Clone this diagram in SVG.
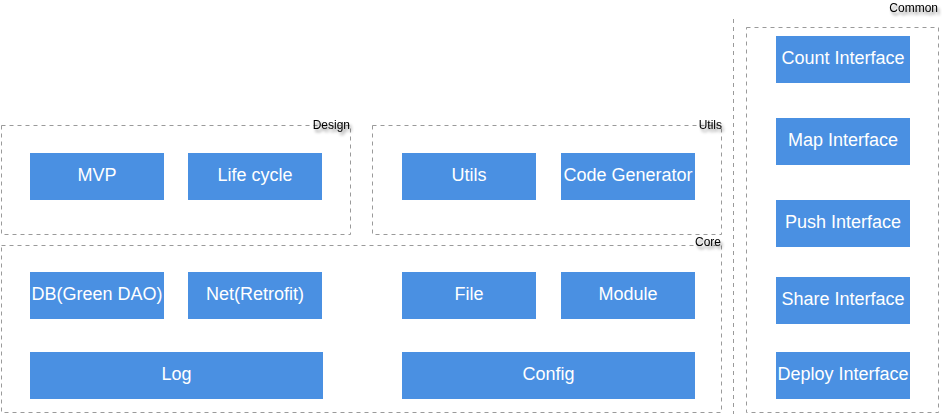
<svg xmlns="http://www.w3.org/2000/svg" width="948" height="414" viewBox="0 0 948 414">
<style>
.box{fill:#4A90E2}
.t{fill:#fff;font-family:"Liberation Sans",Arial,sans-serif;font-size:18px;text-anchor:middle}
.grp{fill:none;stroke:#9a9a9a;stroke-width:1;stroke-dasharray:4 4}
.lbl{fill:#000;font-family:"Liberation Sans",Arial,sans-serif;font-size:12px;text-anchor:end}
</style>
<defs>
<filter id="sh" x="-20%" y="-50%" width="150%" height="250%">
<feDropShadow dx="2" dy="3" stdDeviation="1.5" flood-color="#000" flood-opacity="0.45"/>
</filter>
</defs>
<rect width="948" height="414" fill="#fff"/>
<g id="design">
<rect class="grp" x="1.5" y="125.5" width="349" height="109"/>
<text class="lbl" x="350" y="129" filter="url(#sh)">Design</text>
</g>
<g id="utils-group">
<rect class="grp" x="372.5" y="125.5" width="349" height="109"/>
<text class="lbl" x="722" y="129" filter="url(#sh)">Utils</text>
</g>
<g id="core">
<rect class="grp" x="1.5" y="245.5" width="720" height="167"/>
<text class="lbl" x="721" y="246" filter="url(#sh)">Core</text>
</g>
<g id="common">
<line class="grp" x1="733.5" y1="19" x2="733.5" y2="414"/>
<rect class="grp" x="746.5" y="27.5" width="192" height="385"/>
<text class="lbl" x="938" y="12" filter="url(#sh)">Common</text>
</g>
<g id="mvp"><rect class="box" x="30" y="153" width="134" height="47"/><text class="t" x="97" y="180.5">MVP</text></g>
<g id="lifecycle"><rect class="box" x="188" y="153" width="134" height="47"/><text class="t" x="255" y="180.5">Life cycle</text></g>
<g id="utils"><rect class="box" x="402" y="153" width="134" height="47"/><text class="t" x="469" y="180.5">Utils</text></g>
<g id="codegen"><rect class="box" x="561" y="153" width="134" height="47"/><text class="t" x="628" y="180.5">Code Generator</text></g>
<g id="db"><rect class="box" x="30" y="272" width="134" height="47"/><text class="t" x="97" y="299.5">DB(Green DAO)</text></g>
<g id="net"><rect class="box" x="188" y="272" width="134" height="47"/><text class="t" x="255" y="299.5">Net(Retrofit)</text></g>
<g id="file"><rect class="box" x="402" y="272" width="134" height="47"/><text class="t" x="469" y="299.5">File</text></g>
<g id="module"><rect class="box" x="561" y="272" width="134" height="47"/><text class="t" x="628" y="299.5">Module</text></g>
<g id="log"><rect class="box" x="30" y="352" width="293" height="47"/><text class="t" x="176.5" y="379.5">Log</text></g>
<g id="config"><rect class="box" x="402" y="352" width="293" height="47"/><text class="t" x="548.5" y="379.5">Config</text></g>
<g id="count"><rect class="box" x="776" y="36" width="134" height="47"/><text class="t" x="843" y="63.5">Count Interface</text></g>
<g id="map"><rect class="box" x="776" y="118" width="134" height="47"/><text class="t" x="843" y="145.5">Map Interface</text></g>
<g id="push"><rect class="box" x="776" y="200" width="134" height="47"/><text class="t" x="843" y="227.5">Push Interface</text></g>
<g id="share"><rect class="box" x="776" y="277" width="134" height="47"/><text class="t" x="843" y="304.5">Share Interface</text></g>
<g id="deploy"><rect class="box" x="776" y="352" width="134" height="47"/><text class="t" x="843" y="379.5">Deploy Interface</text></g>
<g id="connectors"></g>
</svg>
